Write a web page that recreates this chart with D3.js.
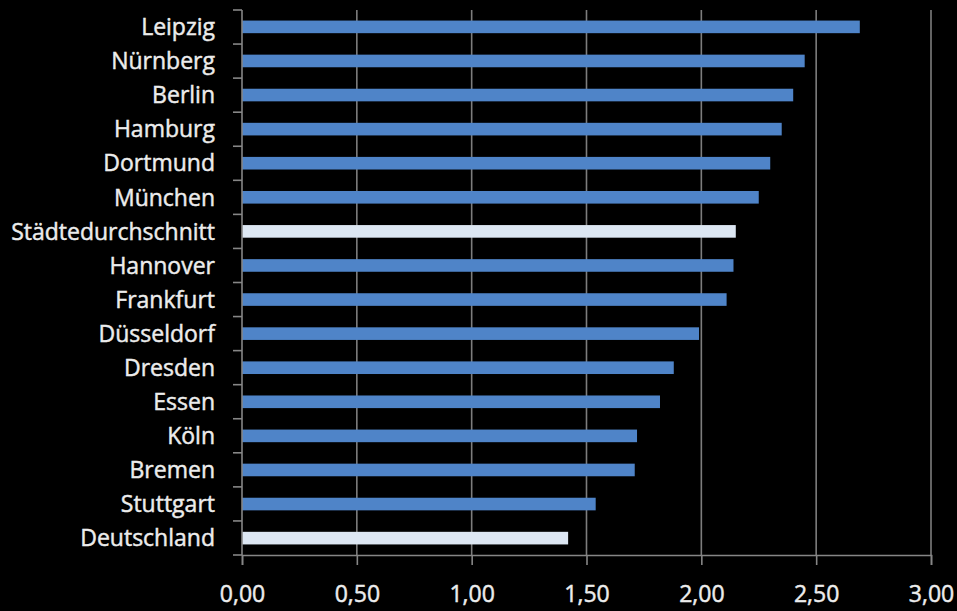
<!DOCTYPE html>
<html>
<head>
<meta charset="utf-8">
<script src="https://cdn.jsdelivr.net/npm/d3@7"></script>
<style>
  html, body { margin: 0; padding: 0; background: #000; }
  svg { display: block; }
  text { font-family: "Open Sans", "DejaVu Sans", sans-serif; fill: #ececec; stroke: #ececec; stroke-width: 0.45px; }
</style>
</head>
<body>
<svg id="chart" width="957" height="611"></svg>
<script>
// Categories top to bottom, with their values
const categories = ["Leipzig", "Nürnberg", "Berlin", "Hamburg", "Dortmund", "München",
  "Städtedurchschnitt", "Hannover", "Frankfurt", "Düsseldorf", "Dresden", "Essen",
  "Köln", "Bremen", "Stuttgart", "Deutschland"];
const values = [2.69, 2.45, 2.40, 2.35, 2.30, 2.25, 2.15, 2.14, 2.11, 1.99, 1.88, 1.82,
  1.72, 1.71, 1.54, 1.42];
// Reference rows drawn in the light colour
const highlighted = ["Städtedurchschnitt", "Deutschland"];
const xTicks = [0, 0.5, 1.0, 1.5, 2.0, 2.5, 3.0];

const svg = d3.select("#chart");
const margin = { top: 10, right: 26, bottom: 56, left: 242 };
const width = 957, height = 611;

const x = d3.scaleLinear().domain([0, 3]).range([margin.left, width - margin.right]);
const y = d3.scaleBand().domain(categories)
  .range([margin.top, height - margin.bottom]).paddingInner(0.63).paddingOuter(0.31);

const fmt = v => d3.format(".2f")(v).replace(".", ",");

// Vertical gridlines
svg.append("g").selectAll("line").data(xTicks.slice(1)).join("line")
  .attr("x1", d => x(d)).attr("x2", d => x(d))
  .attr("y1", margin.top).attr("y2", height - margin.bottom)
  .attr("stroke", "#7d7d7d").attr("stroke-width", 1.6);

// Bars
svg.append("g").selectAll("rect").data(categories).join("rect")
  .attr("x", x(0))
  .attr("y", d => y(d))
  .attr("width", (d, i) => x(values[i]) - x(0))
  .attr("height", y.bandwidth())
  .attr("fill", d => highlighted.includes(d) ? "#dde7f3" : "#4f84c8");

// Bottom axis
const xAxis = d3.axisBottom(x).tickValues(xTicks).tickFormat(fmt).tickSize(10).tickPadding(21);
const gx = svg.append("g").attr("transform", `translate(0,${height - margin.bottom})`).call(xAxis);
gx.select(".domain").attr("stroke", "#868686").attr("stroke-width", 1.6);
gx.selectAll(".tick line").attr("stroke", "#868686").attr("stroke-width", 1.6);
gx.selectAll("text").attr("fill", "#ececec").style("font-size", "23px")
  .style("font-family", "'Open Sans', sans-serif");

// Left axis with ticks at the category boundaries
const gy = svg.append("g").attr("transform", `translate(${margin.left},0)`);
gy.append("line").attr("x1", 0).attr("x2", 0)
  .attr("y1", margin.top).attr("y2", height - margin.bottom)
  .attr("stroke", "#868686").attr("stroke-width", 1.6);
const bounds = d3.range(categories.length + 1).map(i => margin.top + i * (height - margin.top - margin.bottom) / categories.length);
gy.selectAll("line.b").data(bounds).join("line").attr("class", "b")
  .attr("x1", -9).attr("x2", 0).attr("y1", d => d).attr("y2", d => d)
  .attr("stroke", "#868686").attr("stroke-width", 1.6);
gy.selectAll("text").data(categories).join("text")
  .attr("x", -27)
  .attr("y", d => y(d) + y.bandwidth() / 2)
  .attr("dy", "0.36em")
  .attr("text-anchor", "end")
  .style("font-size", "23px")
  .text(d => d);
</script>
</body>
</html>
